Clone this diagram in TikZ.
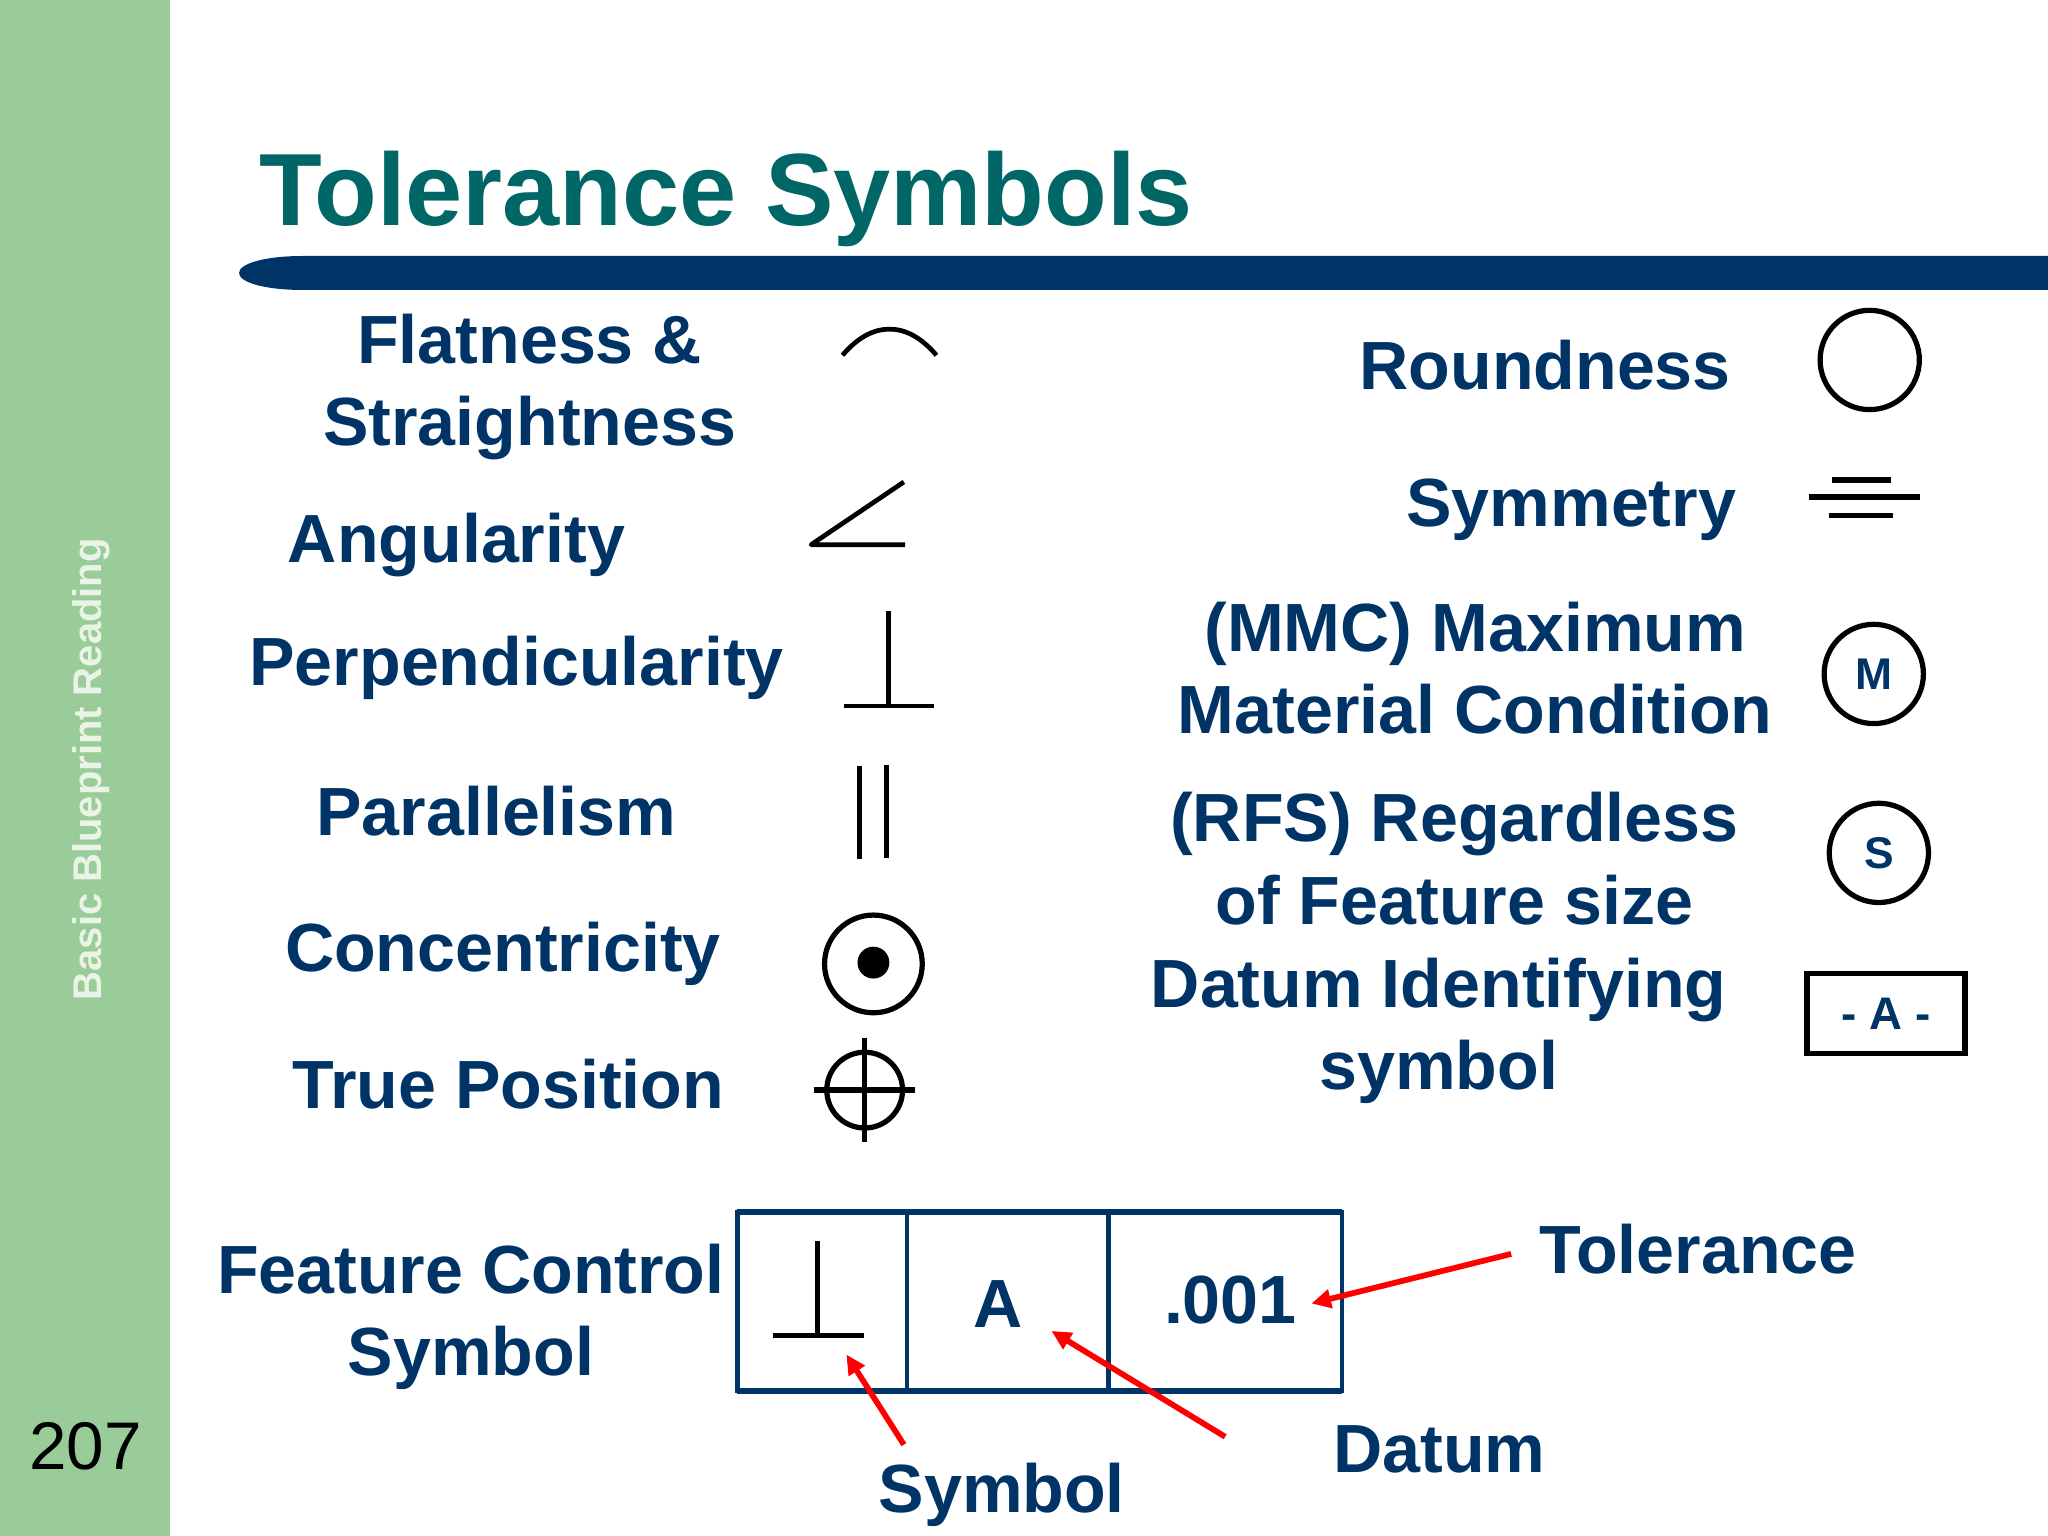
\documentclass[tikz,border=0pt]{standalone}
\usepackage{fontspec}
\setmainfont{Liberation Sans}
\usetikzlibrary{arrows.meta}
\definecolor{navy}{HTML}{003366}
\definecolor{teal2}{HTML}{006666}
\definecolor{sidegreen}{HTML}{99CC99}
\definecolor{sidetext}{HTML}{EAF4E6}
\tikzset{
  x=0.5pt,y=-0.5pt,
  lbl/.style={anchor=base,inner sep=0pt,outer sep=0pt,text=navy,font=\fontsize{26.1}{26.1}\selectfont\bfseries},
  sym/.style={black,line width=2pt},
  symthin/.style={black,line width=1.8pt},
  ring/.style={circle,draw=black,line width=2pt,minimum size=38pt,inner sep=0pt,outer sep=0pt,text=navy,font=\fontsize{17}{17}\selectfont\bfseries},
  cell/.style={draw=navy,line width=1.8pt,inner sep=0pt,outer sep=0pt,anchor=north west},
  rail/.style={navy,line width=2.6pt},
  callout/.style={red,line width=2.2pt,-{Triangle[length=7.5pt,width=7pt]}},
}
\begin{document}
\begin{tikzpicture}
\useasboundingbox (0,0) rectangle (1568,1176);
\fill[white] (0,0) rectangle (1568,1176);
\fill[sidegreen] (0,0) rectangle (130.5,1176);
\node[anchor=base,rotate=90,inner sep=0pt,text=sidetext,font=\fontsize{15.3}{15.3}\selectfont\bfseries] (side) at (78,589) {Basic Blueprint Reading};
\node[anchor=base,inner sep=0pt,font=\fontsize{25.8}{25.8}\selectfont] (page) at (65.5,1125) {207};
\node[anchor=base,inner sep=0pt,text=teal2,font=\fontsize{39.3}{39.3}\selectfont\bfseries] (title) at (556,172.5) {Tolerance Symbols};
\fill[navy] (1568,196) -- (232,196) .. controls (202,196) and (183,202) .. (183,209) .. controls (183,216) and (202,222) .. (232,222) -- (1568,222) -- cycle;
% left labels
\node[lbl] (l1a) at (405.5,278.5) {Flatness \&};
\node[lbl] (l1b) at (405.5,341) {Straightness};
\node[lbl] (l2) at (349.5,431) {Angularity};
\node[lbl] (l3) at (395.5,525) {Perpendicularity};
\node[lbl] (l4) at (380,640) {Parallelism};
\node[lbl] (l5) at (385,744) {Concentricity};
\node[lbl] (l6) at (389,849) {True Position};
% right labels
\node[lbl] (r1) at (1183,298.5) {Roundness};
\node[lbl] (r2) at (1203,403) {Symmetry};
\node[lbl] (r3a) at (1129.5,499) {(MMC) Maximum};
\node[lbl] (r3b) at (1129.5,561.5) {Material Condition};
\node[lbl] (r4a) at (1113.5,644.5) {(RFS) Regardless};
\node[lbl] (r4b) at (1113.5,707.5) {of Feature size};
\node[lbl] (r5a) at (1101.5,771.5) {Datum Identifying};
\node[lbl] (r5b) at (1101.5,834.5) {symbol};
% left symbols
\draw[symthin] (645,272) .. controls (657,258) and (669,252) .. (681,252) .. controls (693,252) and (705,258) .. (717,272);
\draw[symthin,line join=round] (692,369) -- (621,417) -- (693,417);
\draw[symthin] (680,468) -- (680,540) (646,540.5) -- (715,540.5);
\draw[sym] (658,586.5) -- (658,658) (679,586) -- (679,657);
\draw[sym] (668.7,738) circle (37.4);
\fill[black] (668.7,737) circle (12.2);
\draw[sym] (662,834.6) circle (29);
\draw[sym] (623,834.6) -- (700.6,834.6) (662,795) -- (662,874);
% right symbols
\node[ring] (round) at (1431.5,275.6) {};
\draw[sym] (1402.7,367.5) -- (1447.6,367.5) (1385,380.5) -- (1470,380.5) (1400.6,394.7) -- (1449,394.7);
\node[ring] (mmc) at (1434.6,516) {M};
\node[ring] (rfs) at (1438.5,653) {S};
\node[draw=black,line width=2pt,minimum width=60.5pt,minimum height=30.5pt,inner sep=0pt,text=navy,font=\fontsize{17.5}{17.5}\selectfont\bfseries] (datumbox) at (1444,776) {- A -};
% feature control frame
\node[lbl] (f1) at (360.5,990) {Feature Control};
\node[lbl] (f2) at (360.5,1053) {Symbol};
\node[cell,minimum width=65pt,minimum height=68.5pt] (c1) at (564.5,928) {};
\node[cell,minimum width=77pt,minimum height=68.5pt] (c2) at (694.5,928) {};
\node[cell,minimum width=89.5pt,minimum height=68.5pt] (c3) at (848.5,928) {};
\draw[rail] (c1.north west) -- (c3.north east);
\draw[rail] (c1.south west) -- (c3.south east);
\draw[symthin] (626,950) -- (626,1022) (592,1022.5) -- (661.5,1022.5);
\node[lbl] (a) at (764.5,1016) {A};
\node[lbl] (tol) at (942,1013) {.001};
\node[lbl] (ltol) at (1300,975) {Tolerance};
\node[lbl] (ldat) at (1102,1127.5) {Datum};
\node[lbl] (lsym) at (767,1158) {Symbol};
% callouts
\coordinate (t0) at (1157,960);
\coordinate (t1) at (1004,998);
\coordinate (d0) at (938,1100);
\coordinate (d1) at (805,1019);
\coordinate (s0) at (692,1106);
\coordinate (s1) at (648,1037);
\draw[callout] (t0) -- (t1);
\draw[callout] (d0) -- (d1);
\draw[callout] (s0) -- (s1);
\end{tikzpicture}
\end{document}
